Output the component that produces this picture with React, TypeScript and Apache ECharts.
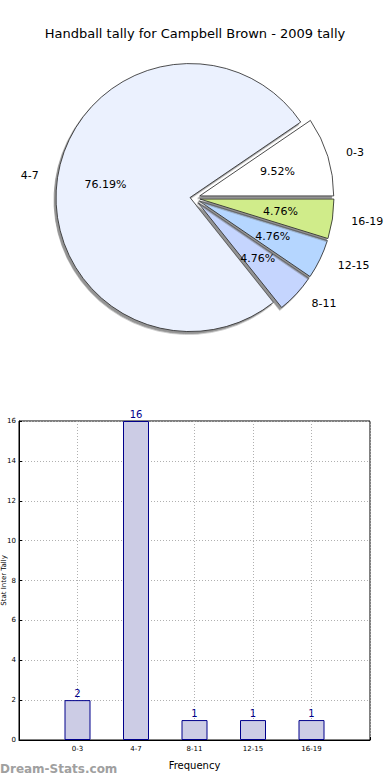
import React, { useEffect, useRef } from "react";
import * as echarts from "echarts";

const categories = ["0-3", "4-7", "8-11", "12-15", "16-19"];
const counts = [2, 16, 1, 1, 1];
const sliceColors = ["#ffffff", "#ebf1fe", "#c5d5fe", "#b5d6ff", "#d0ec8a"];
const yTicks = [0, 2, 4, 6, 8, 10, 12, 14, 16];
const titleText = "Handball tally for Campbell Brown - 2009 tally";
const yAxisName = "Stat Inter Tally";
const xAxisName = "Frequency";
const watermark = "Dream-Stats.com";

const FONT = "DejaVu Sans";

export default function App() {
  const ref = useRef<HTMLDivElement>(null);
  useEffect(() => {
    if (!ref.current) return;
    const chart = echarts.init(ref.current, undefined, { renderer: "svg" });
    const total = counts.reduce((a, b) => a + b, 0);
    const center = [193, 198];
    const R = 134;
    const bigIdx = counts.indexOf(Math.max(...counts));

    const makeSlices = (visible: (i: number) => boolean, withLabel: boolean) =>
      categories.map((c, i) => {
        const vis = visible(i);
        return {
          name: c,
          value: counts[i],
          selected: vis,
          itemStyle: vis
            ? {
                color: sliceColors[i],
                borderColor: "#222",
                borderWidth: 0.8,
                shadowColor: "rgba(110,110,110,0.75)",
                shadowBlur: 0,
                shadowOffsetX: -2,
                shadowOffsetY: 2.5,
              }
            : { color: "rgba(0,0,0,0)", borderWidth: 0, shadowColor: "rgba(0,0,0,0)" },
          label: { show: vis && withLabel },
        };
      });

    const pieCommon = {
      type: "pie",
      center,
      radius: [0, R],
      startAngle: 0,
      clockwise: false,
      avoidLabelOverlap: false,
      selectedMode: "multiple",
      silent: true,
      label: {
        position: "outside",
        formatter: "{b}",
        fontSize: 11,
        fontFamily: FONT,
        color: "#000",
      },
      labelLine: { show: false, length: 14, length2: 0 },
      emphasis: { disabled: true },
    };

    chart.setOption({
      animation: false,
      backgroundColor: "#fff",
      title: {
        text: titleText,
        left: "center",
        top: 22,
        textStyle: { fontSize: 13, fontWeight: "normal", fontFamily: FONT, color: "#000" },
      },
      grid: {
        left: 19,
        right: 20,
        top: 421,
        bottom: 40,
        containLabel: false,
        outerBoundsMode: "none",
        show: true,
        borderColor: "#000",
        borderWidth: 1,
        backgroundColor: "transparent",
      },
      xAxis: {
        type: "value",
        min: 0,
        max: categories.length + 1,
        interval: 1,
        name: xAxisName,
        nameLocation: "middle",
        nameGap: 20,
        nameMoveOverlap: false,
        nameTextStyle: { fontSize: 10, fontFamily: FONT, color: "#000" },
        axisLine: { show: true, lineStyle: { color: "#000" } },
        axisTick: { show: true, inside: true, length: 3, lineStyle: { color: "#000" } },
        axisLabel: {
          fontSize: 7,
          fontFamily: FONT,
          color: "#000",
          margin: 5,
          formatter: (v: number) => categories[v - 1] ?? "",
        },
        splitLine: { show: true, lineStyle: { color: "#b0b0b0", type: [1, 2], width: 1 } },
      },
      yAxis: {
        type: "value",
        min: 0,
        max: yTicks[yTicks.length - 1],
        interval: 2,
        name: yAxisName,
        nameLocation: "middle",
        nameRotate: 90,
        nameGap: 12,
        nameMoveOverlap: false,
        nameTextStyle: { fontSize: 7, fontFamily: FONT, color: "#000" },
        axisLine: { show: true, lineStyle: { color: "#000" } },
        axisTick: { show: true, inside: true, length: 3, lineStyle: { color: "#000" } },
        axisLabel: { fontSize: 7, fontFamily: FONT, color: "#000", margin: 3 },
        splitLine: { show: true, lineStyle: { color: "#b0b0b0", type: [1, 2], width: 1 } },
      },
      graphic: [
        {
          type: "text",
          left: 0,
          top: 763,
          style: {
            text: watermark,
            fill: "#a0a0a0",
            font: "bold 12px 'DejaVu Sans'",
          },
        },
      ],
      series: [
        {
          ...pieCommon,
          name: "big",
          selectedOffset: 3,
          data: makeSlices((i) => i === bigIdx, true),
        },
        {
          ...pieCommon,
          name: "small",
          selectedOffset: 7,
          data: makeSlices((i) => i !== bigIdx, true),
        },
        {
          type: "pie",
          name: "pct",
          center,
          radius: [0, R * 1.2],
          startAngle: 0,
          clockwise: false,
          silent: true,
          avoidLabelOverlap: false,
          selectedMode: "multiple",
          selectedOffset: 5,
          itemStyle: { color: "rgba(0,0,0,0)", borderWidth: 0 },
          label: {
            position: "inside",
            fontSize: 11,
            fontFamily: FONT,
            color: "#000",
            formatter: (p: any) => ((p.value / total) * 100).toFixed(2) + "%",
          },
          labelLine: { show: false },
          emphasis: { disabled: true },
          data: categories.map((c, i) => ({ name: c, value: counts[i], selected: true })),
        },
        {
          type: "bar",
          name: "bars",
          barWidth: 26,
          itemStyle: { color: "#cccce5", borderColor: "#00008b", borderWidth: 1 },
          label: {
            show: true,
            position: "top",
            distance: 2,
            fontSize: 10,
            fontFamily: FONT,
            color: "#00008b",
          },
          emphasis: { disabled: true },
          data: counts.map((v, i) => [i + 1, v]),
        },
      ],
    });
    return () => chart.dispose();
  }, []);
  return (
    <div
      ref={ref}
      style={{ position: "fixed", left: 0, top: 0, width: 390, height: 780 }}
    />
  );
}
